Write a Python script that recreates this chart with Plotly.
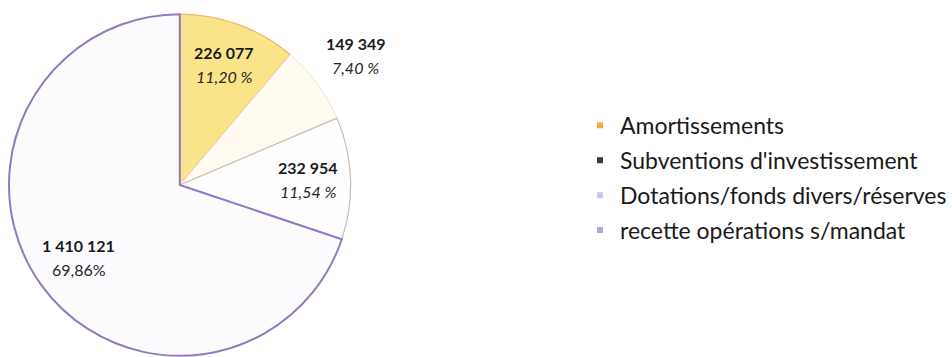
import math
import plotly.graph_objects as go

# Investment revenue breakdown
categories = [
    "Amortissements",
    "Subventions d'investissement",
    "Dotations/fonds divers/réserves",
    "recette opérations s/mandat",
]
values = [226077, 149349, 232954, 1410121]

slice_colors = ["#f9e48a", "#fffbf1", "#fefefe", "#fcfcff"]
slice_edges = ["#f0b468", "#ece2d4", "#c8bcb0", "#9478c0"]
edge_widths = [1.3, 1.0, 1.2, 2.0]
legend_colors = ["#f5a94a", "#3a3a3a", "#c4c9de", "#a7a9dc"]

# radial placement of each value label, as a fraction of the pie radius
label_radius = [0.75, 1.28, 0.75, 0.73]
pct_italic = [True, True, True, False]
pct_sep = [" ", " ", " ", ""]

W, H = 952, 357
CX, CY, R = 180, 185, 171  # pie centre / radius in pixels

FONT = "Lato, 'Open Sans', Arial, sans-serif"

fig = go.Figure()

fig.add_trace(go.Pie(
    labels=categories,
    values=values,
    sort=False,
    direction="clockwise",
    rotation=0,
    marker=dict(colors=slice_colors, line=dict(color=slice_edges, width=edge_widths)),
    textinfo="none",
    hoverinfo="label+value+percent",
    showlegend=False,
    domain=dict(x=[(CX - R) / W, (CX + R) / W], y=[1 - (CY + R) / H, 1 - (CY - R) / H]),
))

# legend entries with small square swatches
for name, col in zip(categories, legend_colors):
    fig.add_trace(go.Scatter(
        x=[None], y=[None], mode="markers", name=name,
        marker=dict(symbol="square", size=6, color=col),
        legendgroup=name,
    ))

total = sum(values)
start = 0.0
annotations = []
for i, v in enumerate(values):
    span = v / total * 360.0
    mid = math.radians(start + span / 2)
    start += span
    px = CX + R * label_radius[i] * math.sin(mid)
    py = CY - R * label_radius[i] * math.cos(mid)
    val_txt = f"{v:,}".replace(",", " ")
    pct_txt = f"{v / total * 100:.2f}".replace(".", ",") + pct_sep[i] + "%"
    if pct_italic[i]:
        pct_txt = f"<i>{pct_txt}</i>"
    annotations.append(dict(
        x=px / W, y=1 - py / H, xref="paper", yref="paper",
        xanchor="center", yanchor="middle",
        text=f"<b>{val_txt}</b>", showarrow=False, yshift=12,
        font=dict(family=FONT, size=16, color="#1c1c1c"),
    ))
    annotations.append(dict(
        x=px / W, y=1 - py / H, xref="paper", yref="paper",
        xanchor="center", yanchor="middle",
        text=pct_txt, showarrow=False, yshift=-12,
        font=dict(family=FONT, size=16, color="#262626"),
    ))

fig.update_layout(
    width=W, height=H,
    margin=dict(l=0, r=0, t=0, b=0),
    paper_bgcolor="white",
    plot_bgcolor="white",
    xaxis=dict(visible=False),
    yaxis=dict(visible=False),
    annotations=annotations,
    legend=dict(
        x=0.6098, y=0.709, xanchor="left", yanchor="top",
        font=dict(family=FONT, size=23, color="#1a1a1a"),
        tracegroupgap=2,
        itemwidth=30,
        bgcolor="rgba(0,0,0,0)",
    ),
)

fig.write_html("out.html")
